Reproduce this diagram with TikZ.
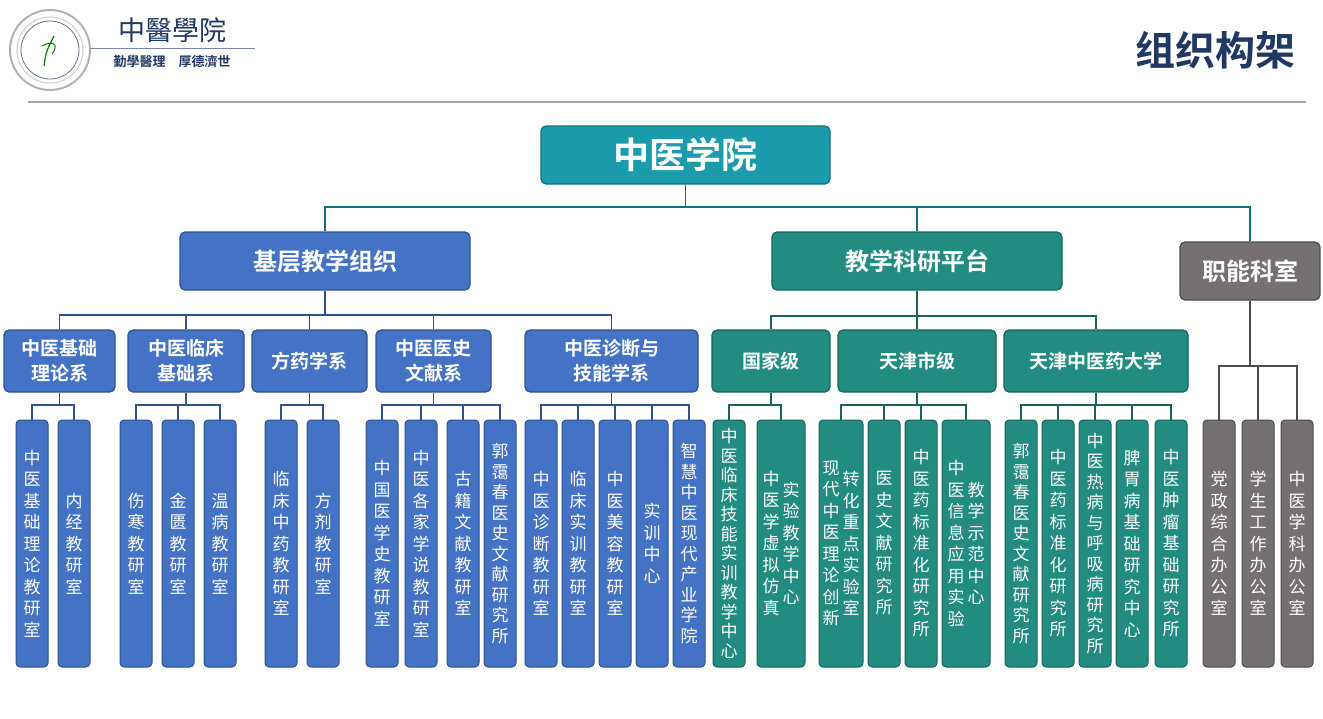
\documentclass[tikz,border=0pt]{standalone}
\usepackage{fontspec}
\setmainfont{Noto Sans CJK SC}[BoldFont={Noto Sans CJK SC Bold}]
\usetikzlibrary{calc}
\definecolor{bl}{HTML}{4472C4}\definecolor{blb}{HTML}{2F528F}
\definecolor{tl}{HTML}{238C80}\definecolor{tlb}{HTML}{17645B}
\definecolor{tp}{HTML}{1C9BAD}\definecolor{tpb}{HTML}{12707E}
\definecolor{gr}{HTML}{767171}\definecolor{grb}{HTML}{4F4B4B}
\definecolor{navy}{HTML}{1F3864}
\def\vtloop#1{\ifx\relax#1\else\hbox to 1em{\hss#1\hss}\expandafter\vtloop\fi}
\newcommand\vt[2][21.5pt]{\vbox{\baselineskip=#1\vtloop#2\relax}}
\newcommand\vtt[2]{\hbox{$\vcenter{\vt{#1}}$\hskip3pt$\vcenter{\vt{#2}}$}}
\begin{document}
\begin{tikzpicture}[x=1pt,y=-1pt,
  box/.style={draw, line width=1.2pt, rounded corners=5pt, text=white, font=\bfseries, inner sep=0pt},
  leaf/.style={draw, line width=1pt, rounded corners=4pt, text=white, font=\fontsize{17}{20}\selectfont, inner sep=0pt, minimum height=247pt},
  B/.style={fill=bl, draw=blb}, T/.style={fill=tl, draw=tlb}, G/.style={fill=gr, draw=grb},
  conn/.style={line width=1.6pt}]
\useasboundingbox (0,0) rectangle (1323,718);
% header
\draw[gray!60, line width=2pt] (50,50) circle (40);
\draw[gray!40, line width=1pt] (50,50) circle (33);
\draw[navy!70, line width=0.8pt] (50,50) circle (29);
\draw[green!50!black, line width=1.2pt] (44,66) .. controls (46,52) .. (54,36);
\draw[green!50!black, line width=1pt] (42,46) .. controls (52,40) and (60,44) .. (52,54);
\node[text=navy, font=\fontsize{27}{30}\selectfont] (title) at (172,30) {中醫學院};
\draw[navy!60, line width=0.6pt] (90,48) -- (255,48);
\node[text=navy, font=\bfseries\fontsize{13}{15}\selectfont] (motto) at (172,62) {勤學醫理\quad 厚德濟世};
\node[text=navy, font=\bfseries\fontsize{40}{44}\selectfont] (hd) at (1215,50) {组织构架};
\draw[gray!70, line width=1.5pt] (28,102) -- (1306,102);
% level 1/2
\node[box, fill=tp, draw=tpb, minimum width=289pt, minimum height=58pt, font=\bfseries\fontsize{36}{38}\selectfont] (top) at (685.5,155) {中医学院};
\node[box, B, minimum width=290pt, minimum height=58pt, font=\bfseries\fontsize{24}{26}\selectfont] (jc) at (325,261) {基层教学组织};
\node[box, T, minimum width=290pt, minimum height=58pt, font=\bfseries\fontsize{24}{26}\selectfont] (jx) at (917,261) {教学科研平台};
\node[box, G, minimum width=140pt, minimum height=58pt, font=\bfseries\fontsize{24}{26}\selectfont] (zn) at (1250,271) {职能科室};
\foreach \c in {jc,jx,zn} \draw[conn, tpb] (top.south) |- (\c.north |- 0,207) -- (\c.north);
% level 3
\tikzset{l3/.style={box, minimum height=62pt, align=center, font=\bfseries\fontsize{19}{25}\selectfont}}
\node[l3,B,minimum width=111pt] (a1) at (59.5,361) {中医基础\\理论系};
\node[l3,B,minimum width=116pt] (a2) at (186,361) {中医临床\\基础系};
\node[l3,B,minimum width=115pt] (a3) at (309.5,361) {方药学系};
\node[l3,B,minimum width=115pt] (a4) at (433.5,361) {中医医史\\文献系};
\node[l3,B,minimum width=173pt] (a5) at (611.5,361) {中医诊断与\\技能学系};
\node[l3,T,minimum width=118pt] (b1) at (771,361) {国家级};
\node[l3,T,minimum width=158pt] (b2) at (917,361) {天津市级};
\node[l3,T,minimum width=184pt] (b3) at (1096,361) {天津中医药大学};
\foreach \c in {a1,a2,a3,a4,a5} \draw[conn, blb] (jc.south) |- (\c.north |- 0,315) -- (\c.north);
\foreach \c in {b1,b2,b3} \draw[conn, tlb] (jx.south) |- (\c.north |- 0,316) -- (\c.north);
% leaves
\newcommand\leaf[5]{\node[leaf,#4,minimum width={#3-#2}] (#1) at ({(#2+#3)/2},543.5) {#5};}
\leaf{c1}{16}{48}{B}{\vt{中医基础理论教研室}}
\leaf{c2}{58}{90}{B}{\vt{内经教研室}}
\leaf{c3}{120}{152}{B}{\vt{伤寒教研室}}
\leaf{c4}{162}{194}{B}{\vt{金匮教研室}}
\leaf{c5}{204}{236}{B}{\vt{温病教研室}}
\leaf{c6}{265}{297}{B}{\vt{临床中药教研室}}
\leaf{c7}{307}{339}{B}{\vt{方剂教研室}}
\leaf{c8}{366}{398}{B}{\vt{中国医学史教研室}}
\leaf{c9}{405}{437}{B}{\vt{中医各家学说教研室}}
\leaf{c10}{447}{479}{B}{\vt{古籍文献教研室}}
\leaf{c11}{484}{516}{B}{\vt[20.5pt]{郭霭春医史文献研究所}}
\leaf{c12}{525}{557}{B}{\vt{中医诊断教研室}}
\leaf{c13}{562}{594}{B}{\vt{临床实训教研室}}
\leaf{c14}{599}{631}{B}{\vt{中医美容教研室}}
\leaf{c15}{636}{668}{B}{\vt{实训中心}}
\leaf{c16}{673}{705}{B}{\vt[20.5pt]{智慧中医现代产业学院}}
\leaf{d1}{713}{745}{T}{\vt[19.5pt]{中医临床技能实训教学中心}}
\leaf{d2}{757}{805}{T}{\vtt{中医学虚拟仿真}{实验教学中心}}
\leaf{d3}{819}{863}{T}{\vtt{现代中医理论创新}{转化重点实验室}}
\leaf{d4}{868}{900}{T}{\vt{医史文献研究所}}
\leaf{d5}{905}{937}{T}{\vt{中医药标准化研究所}}
\leaf{d6}{942}{990}{T}{\vtt{中医信息应用实验}{教学示范中心}}
\leaf{e1}{1005}{1037}{T}{\vt[20.5pt]{郭霭春医史文献研究所}}
\leaf{e2}{1042}{1074}{T}{\vt{中医药标准化研究所}}
\leaf{e3}{1079}{1111}{T}{\vt[20.5pt]{中医热病与呼吸病研究所}}
\leaf{e4}{1116}{1148}{T}{\vt{脾胃病基础研究中心}}
\leaf{e5}{1155}{1187}{T}{\vt{中医肿瘤基础研究所}}
\leaf{f1}{1203}{1235}{G}{\vt{党政综合办公室}}
\leaf{f2}{1242}{1274}{G}{\vt{学生工作办公室}}
\leaf{f3}{1281}{1313}{G}{\vt{中医学科办公室}}
\foreach \p/\cs in {a1/{c1,c2},a2/{c3,c4,c5},a3/{c6,c7},a4/{c8,c9,c10,c11},a5/{c12,c13,c14,c15,c16}}
  \foreach \c in \cs \draw[conn, blb] (\p.south) |- (\c.north |- 0,405) -- (\c.north);
\foreach \p/\cs in {b1/{d1,d2},b2/{d3,d4,d5,d6},b3/{e1,e2,e3,e4,e5}}
  \foreach \c in \cs \draw[conn, tlb] (\p.south) |- (\c.north |- 0,405) -- (\c.north);
\foreach \c in {f1,f2,f3} \draw[conn, grb] (zn.south) |- (\c.north |- 0,366) -- (\c.north);
\end{tikzpicture}
\end{document}
